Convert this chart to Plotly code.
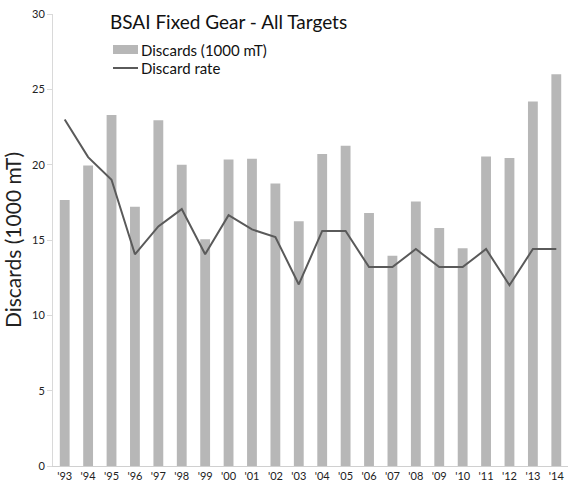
import plotly.graph_objects as go

years = ["'93", "'94", "'95", "'96", "'97", "'98", "'99", "'00", "'01", "'02", "'03",
         "'04", "'05", "'06", "'07", "'08", "'09", "'10", "'11", "'12", "'13", "'14"]
discards = [17.65, 19.95, 23.3, 17.2, 22.95, 20.0, 15.05, 20.35, 20.4, 18.75, 16.25,
            20.7, 21.25, 16.8, 13.95, 17.55, 15.8, 14.45, 20.55, 20.45, 24.2, 26.0]
discard_rate = [23.0, 20.5, 19.0, 14.05, 15.9, 17.05, 14.05, 16.65, 15.7, 15.2, 12.05,
                15.6, 15.6, 13.2, 13.2, 14.4, 13.2, 13.2, 14.4, 12.0, 14.4, 14.4]

FONT = "Lato, 'DejaVu Sans', sans-serif"
BAR_COLOR = "#b7b7b7"
LINE_COLOR = "#5a5a5a"
W, H = 571, 487
M_L, M_R, M_T, M_B = 53, 3, 14, 21
PLOT_W = W - M_L - M_R
PLOT_H = H - M_T - M_B


def px(x):
    # pixel column -> paper fraction (plot area)
    return (x - M_L) / PLOT_W


def py(y):
    # pixel row -> paper fraction (plot area)
    return (H - M_B - y) / PLOT_H


fig = go.Figure()
fig.add_trace(go.Bar(
    x=years, y=discards, name="Discards (1000 mT)",
    marker=dict(color=BAR_COLOR, line=dict(width=0)),
))
fig.add_trace(go.Scatter(
    x=years, y=discard_rate, name="Discard rate", mode="lines",
    line=dict(color=LINE_COLOR, width=2),
))

# legend drawn as paper-space swatches with text beside them
shapes = [
    dict(type="rect", xref="paper", yref="paper", x0=px(113), x1=px(138),
         y0=py(54), y1=py(45), fillcolor=BAR_COLOR, line=dict(width=0), layer="above"),
    dict(type="line", xref="paper", yref="paper", x0=px(113), x1=px(138),
         y0=py(68), y1=py(68), line=dict(color=LINE_COLOR, width=2), layer="above"),
]
annotations = [
    dict(text=fig.data[0].name, xref="paper", yref="paper", x=px(139), y=py(50),
         xanchor="left", yanchor="middle", showarrow=False,
         font=dict(family=FONT, size=15, color="#111111")),
    dict(text=fig.data[1].name, xref="paper", yref="paper", x=px(139), y=py(68),
         xanchor="left", yanchor="middle", showarrow=False,
         font=dict(family=FONT, size=15, color="#111111")),
]

fig.update_layout(
    width=W, height=H,
    margin=dict(l=M_L, r=M_R, t=M_T, b=M_B),
    paper_bgcolor="white", plot_bgcolor="white",
    font=dict(family=FONT, color="#222222", size=11),
    bargap=0.58,
    showlegend=False,
    shapes=shapes,
    annotations=annotations,
    title=dict(text="BSAI Fixed Gear - All Targets", x=110 / W, xanchor="left",
               y=1 - 22 / H, yanchor="middle",
               font=dict(family=FONT, size=19, color="#111111")),
    xaxis=dict(showgrid=False, showline=True, linecolor="#d0d0d0", linewidth=1,
               ticks="", tickfont=dict(size=11), tickangle=0),
    yaxis=dict(range=[0, 30], dtick=5, showgrid=False, zeroline=False,
               showline=True, linecolor="#d9d9d9", linewidth=1,
               ticks="outside", ticklen=5, tickcolor="#d9d9d9",
               tickfont=dict(size=11),
               title=dict(text="Discards (1000 mT)", font=dict(family=FONT, size=21),
                          standoff=12)),
)

fig.write_html("out.html")
